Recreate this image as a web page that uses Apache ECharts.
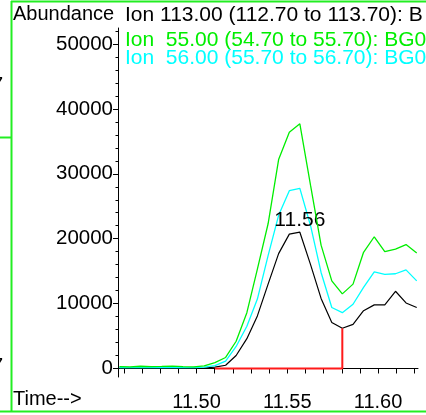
<!DOCTYPE html>
<html>
<head>
<meta charset="utf-8">
<script src="https://cdn.jsdelivr.net/npm/echarts@6.0.0/dist/echarts.min.js"></script>
<style>
  html, body { margin: 0; padding: 0; background: #fff; }
  #chart { width: 426px; height: 415px; }
</style>
</head>
<body>
<div id="chart"></div>
<script>
// retention time (min)
var times = [11.4575, 11.4633, 11.4691, 11.4750, 11.4808, 11.4867, 11.4925, 11.4984, 11.5042, 11.5101,
  11.5160, 11.5218, 11.5277, 11.5335, 11.5394, 11.5452, 11.5511, 11.5569, 11.5628, 11.5686,
  11.5745, 11.5803, 11.5862, 11.5920, 11.5979, 11.6037, 11.6096, 11.6154, 11.6213];
// abundance per ion
var ion113 = [50, 40, 60, 50, 70, 60, 50, 40, 80, 200,
  500, 2000, 4600, 8100, 13000, 17700, 20700, 21000, 16000, 10800,
  7100, 6200, 6800, 8900, 9800, 9800, 11900, 10100, 9400];
var ion55 = [300, 250, 350, 280, 320, 380, 300, 260, 400, 900,
  1700, 4200, 8600, 15300, 22300, 32200, 36400, 37700, 28200, 19000,
  13500, 11500, 13000, 17900, 20300, 18000, 18400, 19100, 17800];
var ion56 = [150, 120, 160, 130, 150, 170, 140, 130, 200, 450,
  1150, 3400, 6500, 10700, 17400, 23600, 27400, 27750, 22000, 14800,
  9400, 8600, 9900, 12500, 14900, 14500, 14600, 15200, 13500];
// integration baseline
var baseT = [11.5101, 11.5803, 11.5803];
var baseV = [0, 0, 6200];
var peakIndex = 17;
var peakLabel = '11.56';

var yLabels = [0, 10000, 20000, 30000, 40000, 50000];
var yMinor = [0, 2000, 4000, 6000, 8000, 10000, 12000, 14000, 16000, 18000, 20000, 22000, 24000, 26000,
  28000, 30000, 32000, 34000, 36000, 38000, 40000, 42000, 44000, 46000, 48000, 50000, 52000];
var xTicks = [11.46, 11.47, 11.48, 11.49, 11.50, 11.51, 11.52, 11.53, 11.54, 11.55,
  11.56, 11.57, 11.58, 11.59, 11.60, 11.61, 11.62];
var xLabels = [11.50, 11.55, 11.60];

var legendTexts = [
  { text: 'Ion 113.00 (112.70 to 113.70): B', color: '#000000', y: 15 },
  { text: 'Ion  55.00 (54.70 to 55.70): BG0', color: '#00ee00', y: 40 },
  { text: 'Ion  56.00 (55.70 to 56.70): BG0', color: '#00ffff', y: 58 }
];

var FAMILY = '"Liberation Sans", Arial, sans-serif';
var FONT = '20px ' + FAMILY;
var FONT_ION = '21px ' + FAMILY;
var FRAME = '#22ee22';

function pairs(t, v) {
  var out = [];
  for (var i = 0; i < t.length; i++) out.push([t[i], v[i]]);
  return out;
}

var chart = echarts.init(document.getElementById('chart'), null, { renderer: 'canvas' });

var graphics = [
  // frame pieces
  { type: 'line', shape: { x1: 11.5, y1: 1, x2: 11.5, y2: 412 }, style: { stroke: FRAME, lineWidth: 2 } },
  { type: 'line', shape: { x1: 11, y1: 1.5, x2: 426, y2: 1.5 }, style: { stroke: FRAME, lineWidth: 2 } },
  { type: 'line', shape: { x1: 0, y1: 411.5, x2: 426, y2: 411.5 }, style: { stroke: FRAME, lineWidth: 2 } },
  { type: 'line', shape: { x1: 0, y1: 137.5, x2: 11, y2: 137.5 }, style: { stroke: FRAME, lineWidth: 2 } },
  // cut-off text of the neighbouring panel
  { type: 'text', x: -8, y: 85, style: { text: '7', font: FONT, fill: '#000', verticalAlign: 'middle' } },
  { type: 'text', x: -8, y: 366, style: { text: '7', font: FONT, fill: '#000', verticalAlign: 'middle' } },
  { type: 'text', x: 13, y: 14.5, style: { text: 'Abundance', font: FONT, fill: '#000', verticalAlign: 'middle' } },
  { type: 'text', x: 13, y: 399, style: { text: 'Time-->', font: FONT, fill: '#000', verticalAlign: 'middle' } }
];
legendTexts.forEach(function (l) {
  graphics.push({ type: 'text', x: 125, y: l.y, style: { text: l.text, font: FONT_ION, fill: l.color, verticalAlign: 'middle' } });
});

var yMin = -1310, yMax = 52465;

var option = {
  animation: false,
  backgroundColor: '#fff',
  grid: { left: 118, top: 28, width: 300, height: 349 },
  xAxis: {
    type: 'value',
    min: 11.4567,
    max: 11.6220,
    splitLine: { show: false },
    axisLine: { lineStyle: { color: '#000', width: 1 } },
    axisTick: { customValues: xTicks, length: 5, lineStyle: { color: '#000' } },
    axisLabel: {
      customValues: xLabels,
      margin: 15,
      color: '#000',
      fontSize: 20,
      fontFamily: FAMILY,
      formatter: function (v) { return v.toFixed(2); }
    }
  },
  yAxis: [{
    type: 'value',
    min: yMin,
    max: yMax,
    splitLine: { show: false },
    axisLine: { show: true, lineStyle: { color: '#000', width: 1 } },
    axisTick: { customValues: yLabels, length: 5, lineStyle: { color: '#000' } },
    axisLabel: {
      customValues: yLabels,
      margin: 5,
      color: '#000',
      fontSize: 20.5,
      fontFamily: FAMILY,
      formatter: function (v) { return String(v); }
    }
  }, {
    type: 'value',
    position: 'left',
    min: yMin,
    max: yMax,
    splitLine: { show: false },
    axisLine: { show: false },
    axisTick: { customValues: yMinor, length: 2.5, lineStyle: { color: '#000' } },
    axisLabel: { show: false }
  }],
  series: [{
    name: 'Ion 113.00',
    type: 'line',
    data: pairs(times, ion113),
    showSymbol: false,
    lineStyle: { color: '#000', width: 1.2 },
    z: 2,
    markPoint: {
      symbol: 'circle',
      symbolSize: 0,
      data: [{ coord: [times[peakIndex], ion113[peakIndex]] }],
      label: {
        show: true,
        position: 'top',
        distance: 2,
        formatter: peakLabel,
        color: '#000',
        fontSize: 21,
        fontFamily: FAMILY
      }
    }
  }, {
    name: 'baseline',
    type: 'line',
    data: pairs(baseT, baseV),
    showSymbol: false,
    lineStyle: { color: '#ff1a1a', width: 2 },
    z: 3
  }, {
    name: 'Ion 56.00',
    type: 'line',
    data: pairs(times, ion56),
    showSymbol: false,
    lineStyle: { color: '#00ffff', width: 1.3 },
    z: 4
  }, {
    name: 'Ion 55.00',
    type: 'line',
    data: pairs(times, ion55),
    showSymbol: false,
    lineStyle: { color: '#00ee00', width: 1.3 },
    z: 5
  }],
  graphic: graphics
};

chart.setOption(option);
</script>
</body>
</html>
